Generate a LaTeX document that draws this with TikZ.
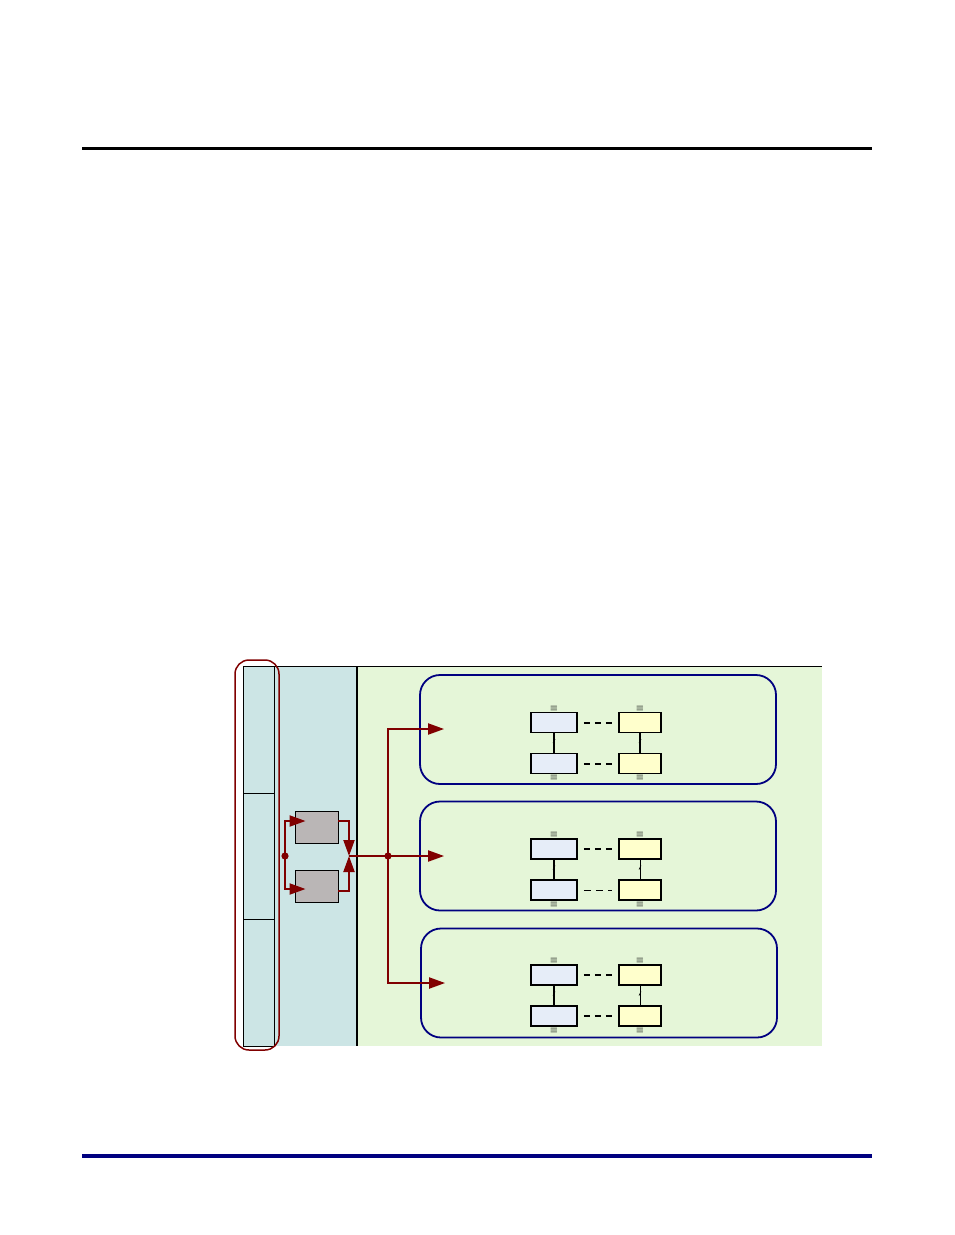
\documentclass[tikz,border=0pt]{standalone}
\usepackage{amsmath,amssymb}
\usetikzlibrary{arrows.meta, positioning, calc}
\definecolor{hostblue}{RGB}{204,229,229}
\definecolor{netgreen}{RGB}{229,246,216}
\definecolor{boxgray}{RGB}{186,182,182}
\definecolor{linkred}{RGB}{128,0,0}
\definecolor{navy}{RGB}{0,0,128}
\definecolor{nodeblue}{RGB}{230,237,248}
\definecolor{nodeyellow}{RGB}{255,255,204}

\begin{document}
\begin{tikzpicture}[x=1pt, y=-1pt,
    redline/.style={draw=linkred, line width=2pt},
    redarrow/.style={redline, -{Triangle[length=16pt,width=11pt]}},
    grayblk/.style={draw, fill=boxgray, line width=0.9pt, minimum width=43pt, minimum height=32pt, inner sep=0pt},
    domainbox/.style={draw=navy, line width=1.8pt, rounded corners=20pt, minimum width=356pt, minimum height=109pt, inner sep=0pt},
    lbox/.style={draw, fill=nodeblue, line width=1.8pt, minimum width=46pt, minimum height=20pt, inner sep=0pt},
    ybox/.style={draw, fill=nodeyellow, line width=1.8pt, minimum width=42pt, minimum height=20pt, inner sep=0pt},
    tick/.style={font=\fontsize{8}{8}\selectfont, inner sep=0pt},
    dashlink/.style={line width=2pt, dash pattern=on 6pt off 5pt, shorten <=6pt, shorten >=6pt},
    thindash/.style={line width=0.8pt, dash pattern=on 7pt off 5pt, shorten <=6pt, shorten >=6pt}]
\useasboundingbox (0,0) rectangle (954,1235);

% page rules
\draw[line width=3pt] (82,148) -- (872,148);
\draw[navy, line width=4pt] (82,1156) -- (872,1156);

% background panels
\fill[hostblue] (243,666) rectangle (357,1046);
\fill[netgreen] (357,666) rectangle (822,1046);
\draw[line width=0.9pt] (243,666) -- (822,666);
\draw[line width=0.9pt] (243,666) rectangle (274,1046);
\draw[line width=0.9pt] (243,793) -- (274,793);
\draw[line width=0.9pt] (243,919) -- (274,919);
\draw[line width=1.4pt] (357,666) -- (357,1046);

% bus marker
\node (bus) [draw=linkred, line width=1.5pt, rounded corners=14pt, minimum width=44pt, minimum height=390pt] at (257,855) {};

% gray blocks
\node (g1) [grayblk] at (316.5,827) {};
\node (g2) [grayblk] at (316.5,886) {};

% domains
\node (d1) [domainbox] at (598,729.5) {};
\node (d2) [domainbox] at (598,856) {};
\node (d3) [domainbox] at (599,983) {};

% nodes inside domains
\foreach \i/\y in {1/722.5, 2/849, 3/975} {
    \node (a\i) [lbox] at (554,\y) {};
    \node (b\i) [ybox] at (640,\y) {};
    \node (c\i) [lbox] at (554,\y+41) {};
    \node (e\i) [ybox] at (640,\y+41) {};
    \node [tick, above=1pt of a\i] {$\boldsymbol{\equiv}$};
    \node [tick, above=1pt of b\i] {$\boldsymbol{\equiv}$};
    \node [tick, below=1pt of c\i] {$\boldsymbol{\equiv}$};
    \node [tick, below=1pt of e\i] {$\boldsymbol{\equiv}$};
    \draw[line width=2pt] (a\i) -- (c\i);
    \draw[line width=0.6pt] ($(a\i.south)!0.4!(c\i.north)+(-1,2)$) -- ++(2,-4);
    \draw[dashlink] (a\i) -- (b\i);
}
\draw[line width=2pt] (b1) -- (e1);
\draw[line width=1pt] (b2) -- (e2);
\draw[line width=1pt] (b3) -- (e3);
\foreach \i in {1,2,3}
    \draw[line width=0.6pt] ($(b\i.south)!0.4!(e\i.north)+(-1,2)$) -- ++(2,-4);
\draw[dashlink] (c1) -- (e1);
\draw[thindash] (c2) -- (e2);
\draw[dashlink] (c3) -- (e3);

% red connectors
\coordinate (fork) at (285,856);
\coordinate (merge) at (349,856);
\coordinate (split) at (388,856);
\fill[linkred] (fork) circle (3.6pt);
\fill[linkred] (split) circle (3.6pt);
\draw[redarrow] (fork) |- ([xshift=11pt]g1.west |- 0,821);
\draw[redarrow] (fork) |- ([xshift=11pt]g2.west |- 0,889);
\draw[redarrow] (g1.east |- 0,821) -| (merge);
\draw[redarrow] (g2.east |- 0,891) -| (merge);
\draw[redline] (merge) -- (split);
\draw[redarrow] (split) -- ([xshift=25pt]d2.west);
\draw[redarrow] (split) |- ([xshift=25pt]d1.west |- 0,729);
\draw[redarrow] (split) |- ([xshift=25pt]d3.west |- 0,983);
\end{tikzpicture}
\end{document}
